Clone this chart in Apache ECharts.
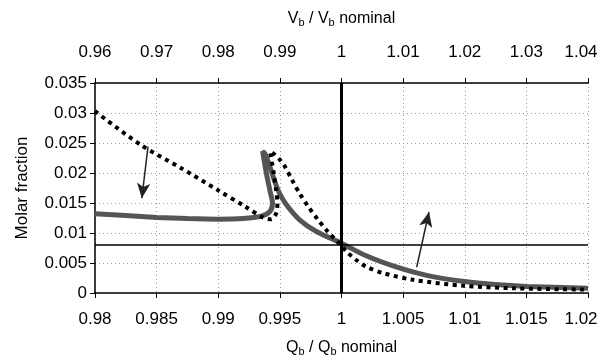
<!DOCTYPE html>
<html>
<head>
<meta charset="utf-8">
<script src="https://cdn.jsdelivr.net/npm/echarts@6/dist/echarts.min.js"></script>
<style>
  html, body { margin: 0; padding: 0; background: #fff; }
  #main { width: 600px; height: 360px; }
</style>
</head>
<body>
<div id="main"></div>
<script>
// solid curve, read against the top axis (Vb / Vb nominal)
var solidV = [0.96, 0.965, 0.97, 0.975, 0.98, 0.984, 0.987, 0.9884, 0.9888, 0.9884, 0.9878, 0.9872,
              0.9876, 0.9884, 0.9892, 0.99, 0.991, 0.9932, 0.996, 1.0, 1.004, 1.009, 1.014, 1.02, 1.025, 1.03, 1.04];
var solidY = [0.0132, 0.0129, 0.0126, 0.0124, 0.0123, 0.0124, 0.0128, 0.0136, 0.0150, 0.0170, 0.0200, 0.0236,
              0.0232, 0.0210, 0.0185, 0.0165, 0.0148, 0.0122, 0.0102, 0.0083, 0.0062, 0.0043, 0.0029, 0.0019, 0.0014, 0.0011, 0.0008];

// dotted curve, read against the bottom axis (Qb / Qb nominal)
var dotQ = [0.98, 0.9837, 0.987, 0.99, 0.9922, 0.9937, 0.9943, 0.9947, 0.9948, 0.9947, 0.9945, 0.9942,
            0.9945, 0.995, 0.9954, 0.996, 0.9966, 0.9973, 0.9981, 0.9989, 0.9998, 1.0004, 1.0012, 1.002, 1.0034, 1.0058, 1.0099, 1.0139, 1.0196, 1.02];
var dotY = [0.0303, 0.0247, 0.0208, 0.0171, 0.0144, 0.0125, 0.0123, 0.0133, 0.0150, 0.0170, 0.0200, 0.0236,
            0.0232, 0.0222, 0.0211, 0.0188, 0.0166, 0.0144, 0.0122, 0.0102, 0.0083, 0.0069, 0.0055, 0.0044, 0.0033, 0.0022, 0.0012, 0.0008, 0.0006, 0.0006];

// reference lines and arrow annotations (bottom-axis coordinates)
var refQ = 1;
var refY = 0.008;
var arrowLeft = [[0.9843, 0.0244], [0.9838, 0.0158]];
var arrowRight = [[1.0061, 0.0043], [1.0071, 0.0135]];

function pairs(xs, ys) {
    var out = [];
    for (var i = 0; i < xs.length; i++) out.push([xs[i], ys[i]]);
    return out;
}

var font = 'Liberation Sans, Arial, sans-serif';
var subRich = {
    b: { fontSize: 11, fontFamily: font, color: '#000', verticalAlign: 'bottom', padding: [7, 0, 0, 0] }
};
var gridLine = { color: '#999', type: [1, 3], width: 1 };

// last tick label sits a little left of its tick, like the original
function lastLabel(maxVal) {
    return function (v) {
        return Math.abs(v - maxVal) < 1e-9 ? '{last|' + v + '}' : String(v);
    };
}
var lastRich = { last: { fontSize: 17, fontFamily: font, color: '#000', padding: [0, 14, 0, 0] } };

var myChart = echarts.init(document.getElementById('main'));

var option = {
    animation: false,
    backgroundColor: '#fff',
    grid: { left: 95, right: 12, top: 83, bottom: 67, outerBoundsMode: 'none', containLabel: false },
    xAxis: [
        {
            type: 'value', position: 'bottom',
            min: 0.98, max: 1.02, interval: 0.005,
            name: 'Q{b|b} / Q{b|b} nominal', nameLocation: 'middle', nameGap: 46,
            nameTextStyle: { fontSize: 16, fontFamily: font, color: '#000', rich: subRich },
            axisLine: { onZero: false, lineStyle: { color: '#000', width: 1.5 } },
            axisTick: { length: 5, lineStyle: { color: '#000' } },
            axisLabel: { fontSize: 17, fontFamily: font, color: '#000', margin: 18,
                         formatter: lastLabel(1.02), rich: lastRich },
            splitLine: { show: true, lineStyle: gridLine }
        },
        {
            type: 'value', position: 'top',
            min: 0.96, max: 1.04, interval: 0.01,
            name: 'V{b|b} / V{b|b} nominal', nameLocation: 'middle', nameGap: 55,
            nameTextStyle: { fontSize: 16, fontFamily: font, color: '#000', rich: subRich },
            axisLine: { onZero: false, lineStyle: { color: '#000', width: 1.5 } },
            axisTick: { length: 5, lineStyle: { color: '#000' } },
            axisLabel: { fontSize: 17, fontFamily: font, color: '#000', margin: 22,
                         formatter: lastLabel(1.04), rich: lastRich },
            splitLine: { show: false }
        }
    ],
    yAxis: {
        type: 'value', min: 0, max: 0.035, interval: 0.005,
        name: 'Molar fraction', nameLocation: 'middle', nameGap: 64,
        nameTextStyle: { fontSize: 17, fontFamily: font, color: '#000' },
        axisLine: { show: true, lineStyle: { color: '#000', width: 1.5 } },
        axisTick: { show: true, length: 5, lineStyle: { color: '#000' } },
        axisLabel: { fontSize: 17, fontFamily: font, color: '#000', margin: 8 },
        splitLine: { show: true, lineStyle: gridLine }
    },
    series: [
        {
            name: 'solid',
            type: 'line',
            xAxisIndex: 1,
            data: pairs(solidV, solidY),
            showSymbol: false,
            smooth: 0.3,
            lineStyle: { color: '#555', width: 5 },
            z: 3
        },
        {
            name: 'dotted',
            type: 'line',
            xAxisIndex: 0,
            data: pairs(dotQ, dotY),
            showSymbol: false,
            smooth: 0.3,
            lineStyle: { color: '#000', width: 4, type: [4, 4.5] },
            z: 4,
            markLine: {
                silent: true,
                precision: 5,
                symbol: ['none', 'none'],
                label: { show: false },
                data: [
                    { xAxis: refQ, lineStyle: { color: '#000', width: 3, type: 'solid' } },
                    { yAxis: refY, lineStyle: { color: '#000', width: 1.5, type: 'solid' } },
                    [
                        { coord: arrowLeft[0], symbol: 'none' },
                        { coord: arrowLeft[1], symbol: 'arrow', symbolSize: [10, 15],
                          lineStyle: { color: '#222', width: 1.5, type: 'solid', curveness: 0.3 } }
                    ],
                    [
                        { coord: arrowRight[0], symbol: 'none' },
                        { coord: arrowRight[1], symbol: 'arrow', symbolSize: [10, 15],
                          lineStyle: { color: '#222', width: 1.5, type: 'solid', curveness: -0.25 } }
                    ]
                ]
            }
        }
    ]
};

myChart.setOption(option);
</script>
</body>
</html>
